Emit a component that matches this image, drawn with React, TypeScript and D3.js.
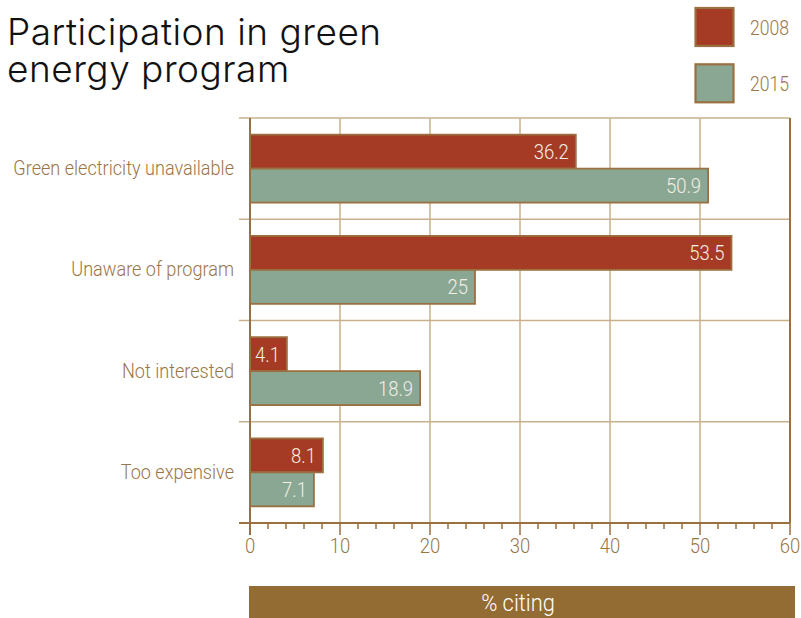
import React from "react";
import * as d3 from "d3";

const categories = ["Green electricity unavailable", "Unaware of program", "Not interested", "Too expensive"];
const seriesNames = ["2008", "2015"];
const values2008 = [36.2, 53.5, 4.1, 8.1];
const values2015 = [50.9, 25, 18.9, 7.1];
const xTicks = [0, 10, 20, 30, 40, 50, 60];
const minorTicks = d3.range(0, 61, 2);
const titleLines = ["Participation in green", "energy program"];

const RED = "#a53b24";
const GREEN = "#8aa793";
const STROKE = "#9b7040";
const LABEL = "#9a7547";
const GRID = "#c9b08c";
const BAND = "#936c33";
const COND = "Roboto, 'Liberation Sans', sans-serif";

function CondText(props: {
  x: number; y: number; k: number; size: number; fill: string; anchor?: "start" | "middle" | "end"; children: React.ReactNode;
}) {
  return (
    <text
      transform={`translate(${props.x},${props.y}) scale(${props.k},1)`}
      textAnchor={props.anchor || "start"}
      fontFamily={COND}
      fontWeight={300}
      fontSize={props.size}
      fill={props.fill}
    >
      {props.children}
    </text>
  );
}

export default function App() {
  const W = 801, H = 618;
  const x = d3.scaleLinear().domain([0, 60]).range([250, 790]);
  const y = d3.scaleBand<string>().domain(categories).range([118, 523]).padding(0);
  const inner = d3.scaleBand<string>().domain(seriesNames).range([0, y.bandwidth()]).paddingInner(0).paddingOuter(0.49);
  const colors = d3.scaleOrdinal<string, string>().domain(seriesNames).range([RED, GREEN]);
  const data = categories.map((c, i) => ({ c, vals: [values2008[i], values2015[i]] }));
  const yBottom = 523;
  const yTop = 118;
  const titleFont = "Inter, 'Liberation Sans', Arial, sans-serif";

  return (
    <svg width={W} height={H} style={{ position: "absolute", left: 0, top: 0 }}>
      <rect width={W} height={H} fill="#fff" />
      {/* title */}
      <text x={7} y={45} fontFamily={titleFont} fontSize={37} letterSpacing={0.5} fill="#111" fontWeight={300}>
        {titleLines.map((l, i) => (
          <tspan key={l} x={7} dy={i === 0 ? 0 : 36.5}>{l}</tspan>
        ))}
      </text>
      {/* legend */}
      {seriesNames.map((s, i) => (
        <g key={s}>
          <rect x={695.5} y={8 + i * 56.3} width={38} height={38} fill={colors(s)} stroke={STROKE} strokeWidth={2.2} />
          <CondText x={750} y={35 + i * 56.3} k={0.84} size={21} fill={LABEL}>{s}</CondText>
        </g>
      ))}
      {/* vertical gridlines */}
      {xTicks.slice(1, -1).map((t) => (
        <line key={t} x1={x(t)} x2={x(t)} y1={yTop} y2={yBottom} stroke={GRID} strokeWidth={1.5} />
      ))}
      {/* horizontal gridlines at category boundaries */}
      {categories.map((c) => (
        <line key={c} x1={239} x2={x(60)} y1={y(c)!} y2={y(c)!} stroke={GRID} strokeWidth={1.5} />
      ))}
      {/* right border */}
      <line x1={x(60)} x2={x(60)} y1={yTop} y2={yBottom} stroke={STROKE} strokeWidth={2} />
      {/* bars */}
      {data.map((d) => (
        <g key={d.c} transform={`translate(0,${y(d.c)})`}>
          {seriesNames.map((s, j) => {
            const v = d.vals[j];
            return (
              <g key={s}>
                <rect x={x(0)} y={inner(s)!} width={x(v) - x(0)} height={inner.bandwidth()} fill={colors(s)} stroke={STROKE} strokeWidth={1.8} />
                <CondText x={x(v) - 7} y={inner(s)! + inner.bandwidth() / 2 + 7.5} k={0.88} anchor="end" size={21} fill="#f3efe6">
                  {v}
                </CondText>
              </g>
            );
          })}
          <CondText x={234} y={y.bandwidth() / 2 + 6.5} k={0.905} anchor="end" size={20} fill={LABEL}>
            {d.c}
          </CondText>
        </g>
      ))}
      {/* left axis */}
      <line x1={x(0)} x2={x(0)} y1={yTop} y2={535} stroke={STROKE} strokeWidth={2} />
      {/* bottom axis */}
      <line x1={239} x2={x(60)} y1={yBottom} y2={yBottom} stroke={STROKE} strokeWidth={2} />
      {minorTicks.map((t) => (
        <line key={t} x1={x(t)} x2={x(t)} y1={yBottom} y2={t % 10 === 0 ? 535 : 529} stroke={STROKE} strokeWidth={1.5} />
      ))}
      {xTicks.map((t) => (
        <CondText key={t} x={x(t)} y={553} k={0.88} anchor="middle" size={21} fill={LABEL}>{t}</CondText>
      ))}
      {/* axis title band */}
      <rect x={249} y={586} width={546} height={32} fill={BAND} />
      <CondText x={518} y={611} k={0.95} anchor="middle" size={23} fill="#fff">% citing</CondText>
    </svg>
  );
}
